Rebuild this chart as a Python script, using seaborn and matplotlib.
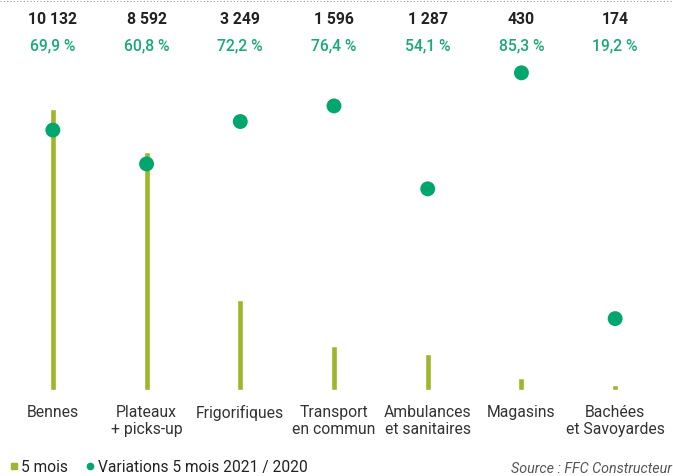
import numpy as np
import seaborn as sns
import matplotlib.pyplot as plt
from matplotlib.lines import Line2D
from matplotlib.transforms import blended_transform_factory

# Données
categories = ["Bennes", "Plateaux\n+ picks-up", "Frigorifiques", "Transport\nen commun",
              "Ambulances\net sanitaires", "Magasins", "Bachées\net Savoyardes"]
immatriculations = [10132, 8592, 3249, 1596, 1287, 430, 174]
variations = [69.9, 60.8, 72.2, 76.4, 54.1, 85.3, 19.2]
labels_volume = ["10 132", "8 592", "3 249", "1 596", "1 287", "430", "174"]
labels_variation = ["69,9 %", "60,8 %", "72,2 %", "76,4 %", "54,1 %", "85,3 %", "19,2 %"]

olive = "#9db62b"
vert = "#00a66c"
vert_txt = "#1aa878"
noir = "#222222"

sns.set_theme(style="white")
plt.rcParams["font.family"] = ["Roboto", "DejaVu Sans"]

fig = plt.figure(figsize=(6.73, 4.77), dpi=100)
ax = fig.add_axes([6 / 673, 1 - 391 / 477, 656 / 673, 331 / 477])

sns.barplot(x=categories, y=immatriculations, color=olive, width=0.065,
            saturation=1, ax=ax)
ax.set_ylim(0, 11937)
ax.set_xlim(-0.5, 6.5)

ax2 = ax.twinx()
sns.scatterplot(x=np.arange(len(categories)), y=variations, color=vert, s=115,
                edgecolor="none", ax=ax2, zorder=5)
ax2.set_ylim(0, 11937 / 134.1)

for a in (ax, ax2):
    a.set_yticks([])
    a.set_ylabel("")
    for s in a.spines.values():
        s.set_visible(False)

ax.tick_params(axis="x", length=0, pad=10, labelsize=11.3, labelcolor="#333333")
for t in ax.get_xticklabels():
    t.set_linespacing(1.2)
    t.set_verticalalignment("top")

# Étiquettes en haut
trans = blended_transform_factory(ax.transData, fig.transFigure)
for i, (v, p) in enumerate(zip(labels_volume, labels_variation)):
    ax.text(i, 1 - 20 / 477, v, transform=trans, ha="center", va="center",
            fontsize=11.3, color=noir, fontweight="semibold")
    ax.text(i, 1 - 46 / 477, p, transform=trans, ha="center", va="center",
            fontsize=11.3, color=vert_txt, fontweight="medium")

# Ligne pointillée en haut
fig.add_artist(Line2D([0, 1], [1 - 2 / 477, 1 - 2 / 477], transform=fig.transFigure,
                      color="#999999", linestyle=(0, (1, 2)), linewidth=0.8))

# Légende
handles = [
    Line2D([], [], marker="s", color=olive, linestyle="none", markersize=5),
    Line2D([], [], marker="o", color=vert, linestyle="none", markersize=4.5),
]
fig.legend(handles, ["5 mois", "Variations 5 mois 2021 / 2020"], loc="center left",
           bbox_to_anchor=(-0.012, 1 - 468 / 477), ncol=2, frameon=False, fontsize=11.2,
           handletextpad=0.0, columnspacing=0.9, handlelength=1.0,
           labelcolor="#222222")

fig.text(672 / 673, 1 - 469 / 477, "Source : FFC Constructeur", ha="right", va="center",
         fontsize=10.3, style="italic", color="#555555")

fig.savefig("out.png", dpi=100)
